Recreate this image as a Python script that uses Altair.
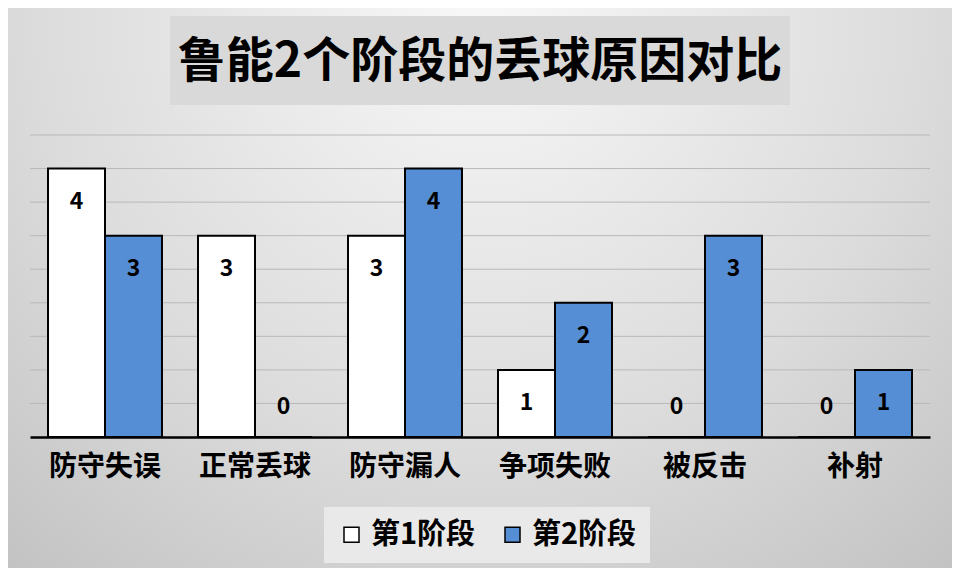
import altair as alt
import pandas as pd

categories = ["防守失误", "正常丢球", "防守漏人", "争项失败", "被反击", "补射"]
series = ["第1阶段", "第2阶段"]
stage1 = [4, 3, 3, 1, 0, 0]
stage2 = [3, 0, 4, 2, 3, 1]
grid_values = [0.5, 1, 1.5, 2, 2.5, 3, 3.5, 4, 4.5]
title_text = "鲁能2个阶段的丢球原因对比"

FONT = "Noto Sans CJK SC"
BLUE = "#558ED5"

rows = []
for cat, a, b in zip(categories, stage1, stage2):
    rows.append({"category": cat, "stage": series[0], "value": a})
    rows.append({"category": cat, "stage": series[1], "value": b})
data = pd.DataFrame(rows)

y_scale = alt.Scale(domain=[0, 4.5], nice=False, zero=True)
one = pd.DataFrame({"k": [0]})

# page background, sized to the window minus the 8px page margin
background = (
    alt.Chart(one)
    .mark_rect(
        color=alt.RadialGradient(
            gradient="radial",
            x1=0.5, y1=0.2, x2=0.5, y2=0.2, r1=0, r2=0.85,
            stops=[
                alt.GradientStop(offset=0, color="#f8f8f8"),
                alt.GradientStop(offset=0.55, color="#dcdcdc"),
                alt.GradientStop(offset=1, color="#bdbdbd"),
            ],
        )
    )
    .encode(x=alt.value(-22), x2=alt.value(922), y=alt.value(-127), y2=alt.value(433))
)

title_box = (
    alt.Chart(one)
    .mark_rect(color="#d9d9d9")
    .encode(x=alt.value(140), x2=alt.value(760), y=alt.value(-119), y2=alt.value(-30))
)
title = (
    alt.Chart(pd.DataFrame({"t": [title_text]}))
    .mark_text(font=FONT, fontSize=48, fontWeight="bold", color="black", align="center", baseline="middle")
    .encode(x=alt.value(450), y=alt.value(-72), text="t:N")
)

grid = (
    alt.Chart(pd.DataFrame({"g": grid_values}))
    .mark_rule(color="#b8b8b8", strokeWidth=1)
    .encode(y=alt.Y("g:Q", scale=y_scale, axis=None))
)

x_enc = alt.X(
    "category:N",
    sort=categories,
    title=None,
    scale=alt.Scale(paddingInner=0, paddingOuter=0),
    axis=alt.Axis(
        labelAngle=0,
        labelFont=FONT,
        labelFontSize=28,
        labelFontWeight="bold",
        labelColor="black",
        labelPadding=16,
        ticks=False,
        grid=False,
        domainColor="black",
        domainWidth=2.5,
        zindex=1,
    ),
)
xoff = alt.XOffset("stage:N", sort=series, scale=alt.Scale(paddingInner=0, paddingOuter=0.316))

bars = (
    alt.Chart(data)
    .mark_bar(stroke="black", strokeWidth=2)
    .encode(
        x=x_enc,
        xOffset=xoff,
        y=alt.Y("value:Q", scale=y_scale, axis=None),
        color=alt.Color(
            "stage:N",
            sort=series,
            scale=alt.Scale(domain=series, range=["#ffffff", BLUE]),
            legend=alt.Legend(
                title=None,
                orient="none",
                legendX=294,
                legendY=372,
                direction="horizontal",
                symbolType="square",
                symbolSize=225,
                symbolStrokeColor="black",
                symbolStrokeWidth=1.5,
                labelFont=FONT,
                labelFontSize=29,
                labelFontWeight="bold",
                labelColor="black",
                labelOffset=5,
                columnPadding=22,
                padding=13,
                fillColor="#e9e9e9",
                labelLimit=300,
            ),
        ),
    )
)

labels = (
    alt.Chart(data)
    .transform_calculate(pos="max(datum.value - 0.5, 0.45)")
    .mark_text(font=FONT, fontSize=23, fontWeight="bold", color="black", baseline="middle")
    .encode(
        x=alt.X("category:N", sort=categories),
        xOffset=xoff,
        y=alt.Y("pos:Q", scale=y_scale, axis=None),
        text="value:Q",
    )
)

chart = (
    alt.layer(background, title_box, title, grid, bars, labels)
    .properties(width=900, height=302, padding=0, background="#d4d4d4")
    .configure_view(stroke=None)
)

chart.save("out.html", embed_options={"renderer": "svg", "actions": False})
